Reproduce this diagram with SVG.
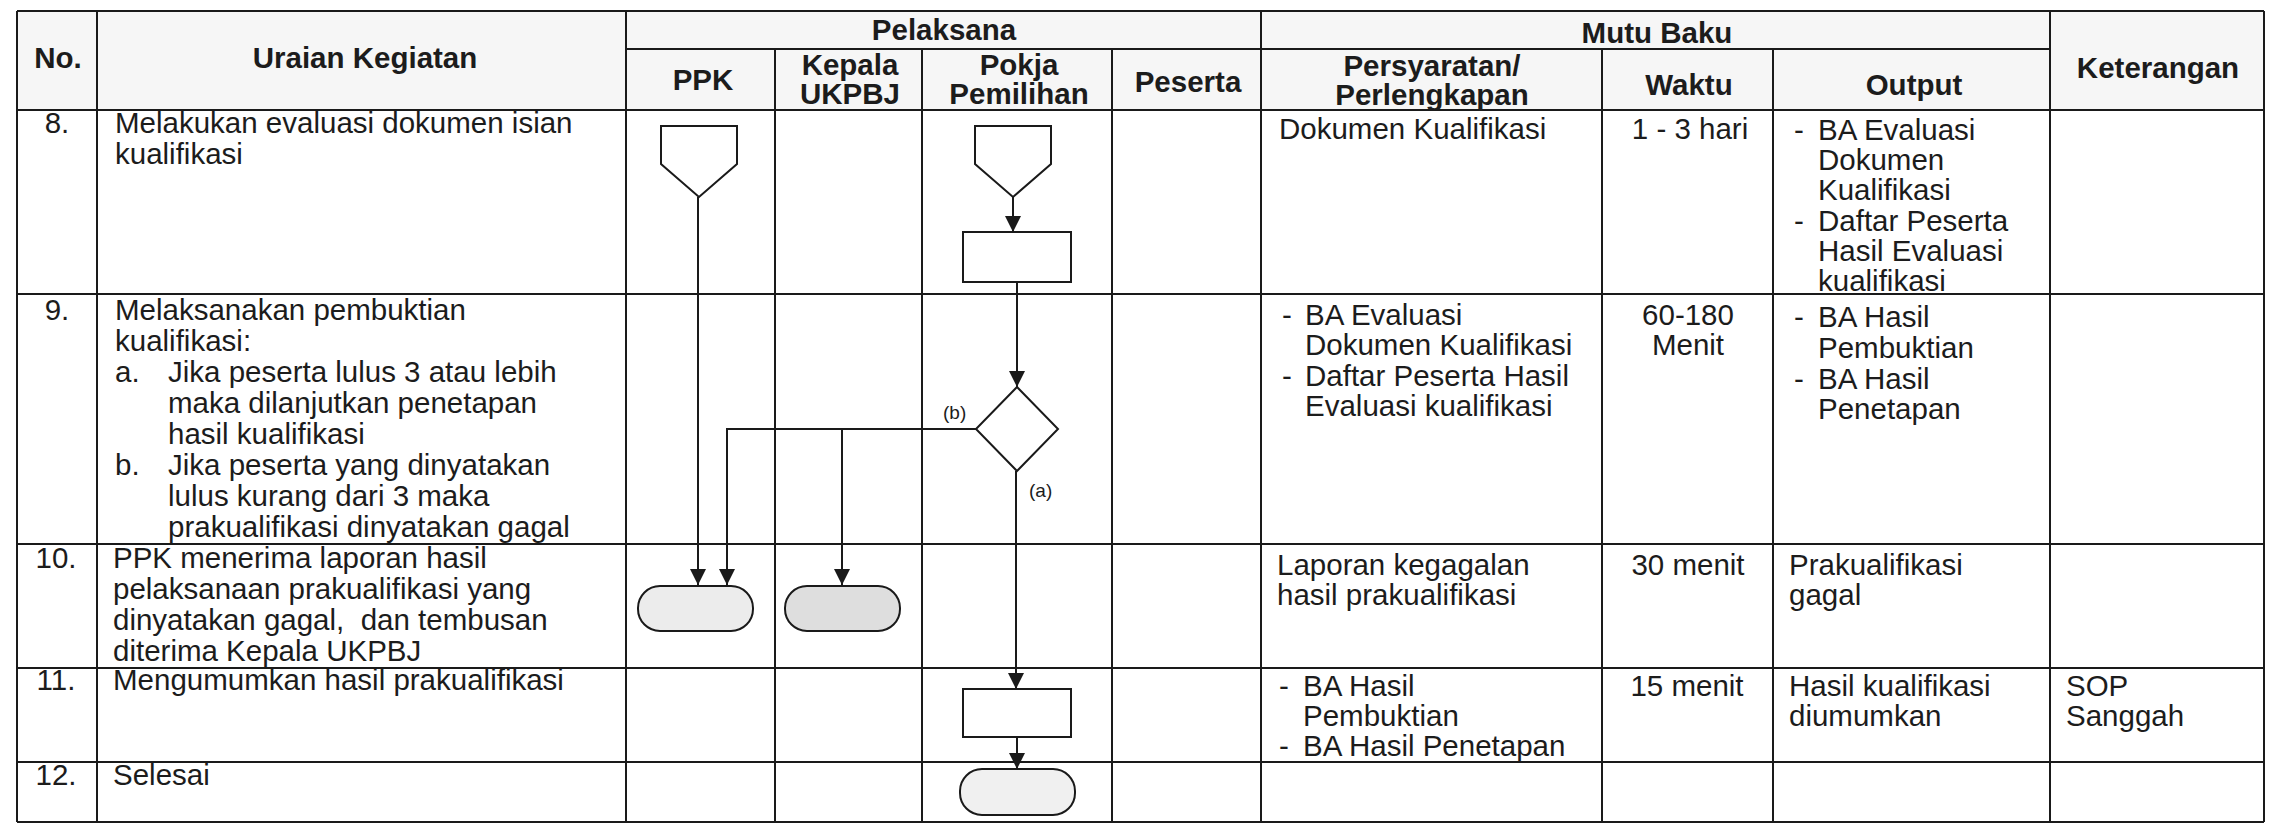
<svg xmlns="http://www.w3.org/2000/svg" width="2271" height="828" viewBox="0 0 2271 828">
<style>
  .grid line { stroke:#1a1a1a; stroke-width:2; }
  text { font-family:"Liberation Sans", Arial, sans-serif; font-size:29.5px; fill:#1c1c1c; }
  .h { font-weight:bold; text-anchor:middle; }
  .c { text-anchor:middle; }
  .lbl { font-size:19px; }
  .shape { stroke:#1a1a1a; stroke-width:2; fill:#ffffff; }
  .term { stroke:#1a1a1a; stroke-width:2; fill:#ececec; }
  .term2 { stroke:#1a1a1a; stroke-width:2; fill:#dedede; }
  .conn path { fill:none; stroke:#1a1a1a; stroke-width:2; }
</style>
<defs>
  <marker id="arr" viewBox="0 0 16 16" refX="16" refY="8" markerWidth="16" markerHeight="16" markerUnits="userSpaceOnUse" orient="auto">
    <path d="M0,0 L16,8 L0,16 z" fill="#1a1a1a"/>
  </marker>
</defs>
<rect width="2271" height="828" fill="#ffffff"/>
<rect x="17" y="11" width="2247" height="99" fill="#f6f6f6"/>

<g id="table" class="grid">
  <line x1="17" y1="11" x2="2264" y2="11"/>
  <line x1="626" y1="49" x2="2050" y2="49"/>
  <line x1="17" y1="110" x2="2264" y2="110"/>
  <line x1="17" y1="294" x2="2264" y2="294"/>
  <line x1="17" y1="544" x2="2264" y2="544"/>
  <line x1="17" y1="668" x2="2264" y2="668"/>
  <line x1="17" y1="762" x2="2264" y2="762"/>
  <line x1="17" y1="822" x2="2264" y2="822"/>
  <line x1="17" y1="11" x2="17" y2="822"/>
  <line x1="97" y1="11" x2="97" y2="822"/>
  <line x1="626" y1="11" x2="626" y2="822"/>
  <line x1="775" y1="49" x2="775" y2="822"/>
  <line x1="922" y1="49" x2="922" y2="822"/>
  <line x1="1112" y1="49" x2="1112" y2="822"/>
  <line x1="1261" y1="11" x2="1261" y2="822"/>
  <line x1="1602" y1="49" x2="1602" y2="822"/>
  <line x1="1773" y1="49" x2="1773" y2="822"/>
  <line x1="2050" y1="11" x2="2050" y2="822"/>
  <line x1="2264" y1="11" x2="2264" y2="822"/>
</g>

<g id="header">
  <text class="h" x="58" y="68">No.</text>
  <text class="h" x="365" y="68">Uraian Kegiatan</text>
  <text class="h" x="944" y="40">Pelaksana</text>
  <text class="h" x="703" y="90">PPK</text>
  <text class="h" x="850" y="75">Kepala</text>
  <text class="h" x="850" y="104">UKPBJ</text>
  <text class="h" x="1019" y="75">Pokja</text>
  <text class="h" x="1019" y="104">Pemilihan</text>
  <text class="h" x="1188" y="92">Peserta</text>
  <text class="h" x="1657" y="43">Mutu Baku</text>
  <text class="h" x="1432" y="76">Persyaratan/</text>
  <text class="h" x="1432" y="105">Perlengkapan</text>
  <text class="h" x="1689" y="95">Waktu</text>
  <text class="h" x="1914" y="95">Output</text>
  <text class="h" x="2158" y="78">Keterangan</text>
</g>

<g id="row8">
  <text class="c" x="57" y="133">8.</text>
  <text x="115" y="133">Melakukan evaluasi dokumen isian</text>
  <text x="115" y="164">kualifikasi</text>
  <text x="1279" y="139">Dokumen Kualifikasi</text>
  <text class="c" x="1690" y="139">1 - 3 hari</text>
  <text x="1794" y="140">-</text>
  <text x="1818" y="140">BA Evaluasi</text>
  <text x="1818" y="170">Dokumen</text>
  <text x="1818" y="200">Kualifikasi</text>
  <text x="1794" y="231">-</text>
  <text x="1818" y="231">Daftar Peserta</text>
  <text x="1818" y="261">Hasil Evaluasi</text>
  <text x="1818" y="291">kualifikasi</text>
</g>

<g id="row9">
  <text class="c" x="57" y="320">9.</text>
  <text x="115" y="320">Melaksanakan pembuktian</text>
  <text x="115" y="351">kualifikasi:</text>
  <text x="115" y="382">a.</text>
  <text x="168" y="382">Jika peserta lulus 3 atau lebih</text>
  <text x="168" y="413">maka dilanjutkan penetapan</text>
  <text x="168" y="444">hasil kualifikasi</text>
  <text x="115" y="475">b.</text>
  <text x="168" y="475">Jika peserta yang dinyatakan</text>
  <text x="168" y="506">lulus kurang dari 3 maka</text>
  <text x="168" y="537">prakualifikasi dinyatakan gagal</text>
  <text x="1282" y="325">-</text>
  <text x="1305" y="325">BA Evaluasi</text>
  <text x="1305" y="355">Dokumen Kualifikasi</text>
  <text x="1282" y="386">-</text>
  <text x="1305" y="386">Daftar Peserta Hasil</text>
  <text x="1305" y="416">Evaluasi kualifikasi</text>
  <text class="c" x="1688" y="325">60-180</text>
  <text class="c" x="1688" y="355">Menit</text>
  <text x="1794" y="327">-</text>
  <text x="1818" y="327">BA Hasil</text>
  <text x="1818" y="358">Pembuktian</text>
  <text x="1794" y="389">-</text>
  <text x="1818" y="389">BA Hasil</text>
  <text x="1818" y="419">Penetapan</text>
</g>

<g id="row10">
  <text class="c" x="56" y="568">10.</text>
  <text x="113" y="568">PPK menerima laporan hasil</text>
  <text x="113" y="599">pelaksanaan prakualifikasi yang</text>
  <text x="113" y="630">dinyatakan gagal,&#160; dan tembusan</text>
  <text x="113" y="661">diterima Kepala UKPBJ</text>
  <text x="1277" y="575">Laporan kegagalan</text>
  <text x="1277" y="605">hasil prakualifikasi</text>
  <text class="c" x="1688" y="575">30 menit</text>
  <text x="1789" y="575">Prakualifikasi</text>
  <text x="1789" y="605">gagal</text>
</g>

<g id="row11">
  <text class="c" x="56" y="690">11.</text>
  <text x="113" y="690">Mengumumkan hasil prakualifikasi</text>
  <text x="1279" y="696">-</text>
  <text x="1303" y="696">BA Hasil</text>
  <text x="1303" y="726">Pembuktian</text>
  <text x="1279" y="756">-</text>
  <text x="1303" y="756">BA Hasil Penetapan</text>
  <text class="c" x="1687" y="696">15 menit</text>
  <text x="1789" y="696">Hasil kualifikasi</text>
  <text x="1789" y="726">diumumkan</text>
  <text x="2066" y="696">SOP</text>
  <text x="2066" y="726">Sanggah</text>
</g>

<g id="row12">
  <text class="c" x="56" y="785">12.</text>
  <text x="113" y="785">Selesai</text>
</g>

<g id="n-ppk-offpage"><path class="shape" d="M661,126 H737 V164 L699,197 L661,164 Z"/></g>
<g id="n-pokja-offpage"><path class="shape" d="M975,126 H1051 V164 L1013,197 L975,164 Z"/></g>
<g id="n-pokja-eval"><rect class="shape" x="963" y="232" width="108" height="50"/></g>
<g id="n-decision"><path class="shape" d="M1017,387 L1058,429 L1017,471 L976,429 Z"/></g>
<g id="n-ppk-terminal"><rect class="term" x="638" y="586" width="115" height="45" rx="22" ry="22"/></g>
<g id="n-kepala-terminal"><rect class="term2" x="785" y="586" width="115" height="45" rx="22" ry="22"/></g>
<g id="n-pokja-announce"><rect class="shape" x="963" y="689" width="108" height="48"/></g>
<g id="n-end"><rect class="term" x="960" y="769" width="115" height="46" rx="22" ry="22" style="fill:#f0f0f0"/></g>

<g id="connectors" class="conn">
  <path d="M698,197 V585" marker-end="url(#arr)"/>
  <path d="M1013,197 V232" marker-end="url(#arr)"/>
  <path d="M1017,282 V387" marker-end="url(#arr)"/>
  <path d="M976,429 H727 V585" marker-end="url(#arr)"/>
  <path d="M842,429 V585" marker-end="url(#arr)"/>
  <path d="M1016,471 V689" marker-end="url(#arr)"/>
  <path d="M1017,737 V769" marker-end="url(#arr)"/>
  <text class="lbl" x="943" y="419">(b)</text>
  <text class="lbl" x="1029" y="497">(a)</text>
</g>
</svg>
